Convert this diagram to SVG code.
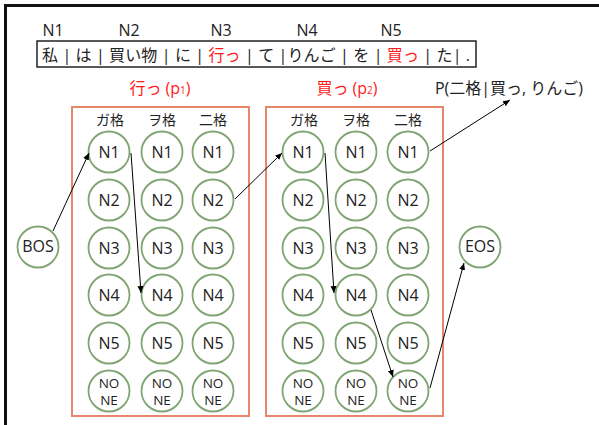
<svg xmlns="http://www.w3.org/2000/svg" width="599" height="425" viewBox="0 0 599 425">
<defs>
<marker id="ah" markerWidth="8" markerHeight="8" refX="7" refY="4" orient="auto" markerUnits="userSpaceOnUse">
<path d="M0,1 L7,4 L0,7 Z" fill="#000"/>
</marker>
<style>
text{font-family:"Open Sans","Noto Sans CJK JP",sans-serif;fill:#222}
.n circle{fill:#fff;stroke:#7fa573;stroke-width:1.8}
.n text{font-size:16px;text-anchor:middle}
.n text.s{font-size:13.5px}
.box{fill:none;stroke:#e8866a;stroke-width:2}
.hd{font-size:14px;text-anchor:middle}
.red{fill:#ff1a1a}
.lbl{font-size:16px;text-anchor:middle}
.c line{stroke:#000;stroke-width:1;marker-end:url(#ah)}
</style>
</defs>
<rect width="599" height="425" fill="#fff"/>
<path d="M5.5,425 V5.5 H599" fill="none" stroke="#111" stroke-width="3"/>

<g id="top-labels">
<text x="53" y="36" class="lbl">N1</text>
<text x="129" y="36" class="lbl">N2</text>
<text x="221" y="36" class="lbl">N3</text>
<text x="307" y="36" class="lbl">N4</text>
<text x="391" y="36" class="lbl">N5</text>
</g>
<g id="sentence">
<rect x="37" y="41" width="439" height="26" fill="#fff" stroke="#222" stroke-width="1.5"/>
<text x="42" y="60.5" font-size="16" textLength="428" lengthAdjust="spacing">私 | は | 買い物 | に | <tspan class="red">行っ</tspan> | て |りんご | を | <tspan class="red">買っ</tspan> | た| .</text>
</g>
<text x="160" y="94" class="lbl red" font-size="17">行っ (p<tspan font-size="10">1</tspan>)</text>
<text x="347" y="94" class="lbl red" font-size="17">買っ (p<tspan font-size="10">2</tspan>)</text>
<text x="509" y="94" class="lbl" font-size="17">P(二格|買っ, りんご)</text>

<g id="box1">
<rect class="box" x="72" y="107" width="177" height="309"/>
<text class="hd" x="110" y="125">ガ格</text>
<text class="hd" x="162" y="125">ヲ格</text>
<text class="hd" x="213" y="125">二格</text>
</g>
<g id="box2">
<rect class="box" x="266" y="107" width="177" height="309"/>
<text class="hd" x="304" y="125">ガ格</text>
<text class="hd" x="356" y="125">ヲ格</text>
<text class="hd" x="408" y="125">二格</text>
</g>

<g id="BOS" class="n"><circle cx="38" cy="247" r="20.5"/><text x="38" y="252" font-size="13.5">BOS</text></g>
<g id="EOS" class="n"><circle cx="480" cy="247" r="20.5"/><text x="480" y="252" font-size="13.5">EOS</text></g>

<g id="p1-ga-N1" class="n"><circle cx="109" cy="152" r="20.5"/><text x="109" y="157.5">N1</text></g>
<g id="p1-ga-N2" class="n"><circle cx="109" cy="200" r="20.5"/><text x="109" y="205.5">N2</text></g>
<g id="p1-ga-N3" class="n"><circle cx="109" cy="248" r="20.5"/><text x="109" y="253.5">N3</text></g>
<g id="p1-ga-N4" class="n"><circle cx="109" cy="295" r="20.5"/><text x="109" y="300.5">N4</text></g>
<g id="p1-ga-N5" class="n"><circle cx="109" cy="343" r="20.5"/><text x="109" y="348.5">N5</text></g>
<g id="p1-ga-NONE" class="n"><circle cx="109" cy="391" r="20.5"/><text class="s" x="109" y="388">NO</text><text class="s" x="109" y="405">NE</text></g>

<g id="p1-wo-N1" class="n"><circle cx="162" cy="152" r="20.5"/><text x="162" y="157.5">N1</text></g>
<g id="p1-wo-N2" class="n"><circle cx="162" cy="200" r="20.5"/><text x="162" y="205.5">N2</text></g>
<g id="p1-wo-N3" class="n"><circle cx="162" cy="248" r="20.5"/><text x="162" y="253.5">N3</text></g>
<g id="p1-wo-N4" class="n"><circle cx="162" cy="295" r="20.5"/><text x="162" y="300.5">N4</text></g>
<g id="p1-wo-N5" class="n"><circle cx="162" cy="343" r="20.5"/><text x="162" y="348.5">N5</text></g>
<g id="p1-wo-NONE" class="n"><circle cx="162" cy="391" r="20.5"/><text class="s" x="162" y="388">NO</text><text class="s" x="162" y="405">NE</text></g>

<g id="p1-ni-N1" class="n"><circle cx="213" cy="152" r="20.5"/><text x="213" y="157.5">N1</text></g>
<g id="p1-ni-N2" class="n"><circle cx="213" cy="200" r="20.5"/><text x="213" y="205.5">N2</text></g>
<g id="p1-ni-N3" class="n"><circle cx="213" cy="248" r="20.5"/><text x="213" y="253.5">N3</text></g>
<g id="p1-ni-N4" class="n"><circle cx="213" cy="295" r="20.5"/><text x="213" y="300.5">N4</text></g>
<g id="p1-ni-N5" class="n"><circle cx="213" cy="343" r="20.5"/><text x="213" y="348.5">N5</text></g>
<g id="p1-ni-NONE" class="n"><circle cx="213" cy="391" r="20.5"/><text class="s" x="213" y="388">NO</text><text class="s" x="213" y="405">NE</text></g>

<g id="p2-ga-N1" class="n"><circle cx="303" cy="152" r="20.5"/><text x="303" y="157.5">N1</text></g>
<g id="p2-ga-N2" class="n"><circle cx="303" cy="200" r="20.5"/><text x="303" y="205.5">N2</text></g>
<g id="p2-ga-N3" class="n"><circle cx="303" cy="248" r="20.5"/><text x="303" y="253.5">N3</text></g>
<g id="p2-ga-N4" class="n"><circle cx="303" cy="295" r="20.5"/><text x="303" y="300.5">N4</text></g>
<g id="p2-ga-N5" class="n"><circle cx="303" cy="343" r="20.5"/><text x="303" y="348.5">N5</text></g>
<g id="p2-ga-NONE" class="n"><circle cx="303" cy="391" r="20.5"/><text class="s" x="303" y="388">NO</text><text class="s" x="303" y="405">NE</text></g>

<g id="p2-wo-N1" class="n"><circle cx="356" cy="152" r="20.5"/><text x="356" y="157.5">N1</text></g>
<g id="p2-wo-N2" class="n"><circle cx="356" cy="200" r="20.5"/><text x="356" y="205.5">N2</text></g>
<g id="p2-wo-N3" class="n"><circle cx="356" cy="248" r="20.5"/><text x="356" y="253.5">N3</text></g>
<g id="p2-wo-N4" class="n"><circle cx="356" cy="295" r="20.5"/><text x="356" y="300.5">N4</text></g>
<g id="p2-wo-N5" class="n"><circle cx="356" cy="343" r="20.5"/><text x="356" y="348.5">N5</text></g>
<g id="p2-wo-NONE" class="n"><circle cx="356" cy="391" r="20.5"/><text class="s" x="356" y="388">NO</text><text class="s" x="356" y="405">NE</text></g>

<g id="p2-ni-N1" class="n"><circle cx="408" cy="152" r="20.5"/><text x="408" y="157.5">N1</text></g>
<g id="p2-ni-N2" class="n"><circle cx="408" cy="200" r="20.5"/><text x="408" y="205.5">N2</text></g>
<g id="p2-ni-N3" class="n"><circle cx="408" cy="248" r="20.5"/><text x="408" y="253.5">N3</text></g>
<g id="p2-ni-N4" class="n"><circle cx="408" cy="295" r="20.5"/><text x="408" y="300.5">N4</text></g>
<g id="p2-ni-N5" class="n"><circle cx="408" cy="343" r="20.5"/><text x="408" y="348.5">N5</text></g>
<g id="p2-ni-NONE" class="n"><circle cx="408" cy="391" r="20.5"/><text class="s" x="408" y="388">NO</text><text class="s" x="408" y="405">NE</text></g>

<g id="connectors" class="c">
<line x1="53" y1="231" x2="89" y2="153"/>
<line x1="131" y1="153" x2="141" y2="293"/>
<line x1="235" y1="199" x2="282" y2="153"/>
<line x1="325" y1="153" x2="334" y2="293"/>
<line x1="371" y1="310" x2="393" y2="377"/>
<line x1="430" y1="388" x2="464" y2="263"/>
<line x1="430" y1="151" x2="510" y2="100"/>
</g>
</svg>
